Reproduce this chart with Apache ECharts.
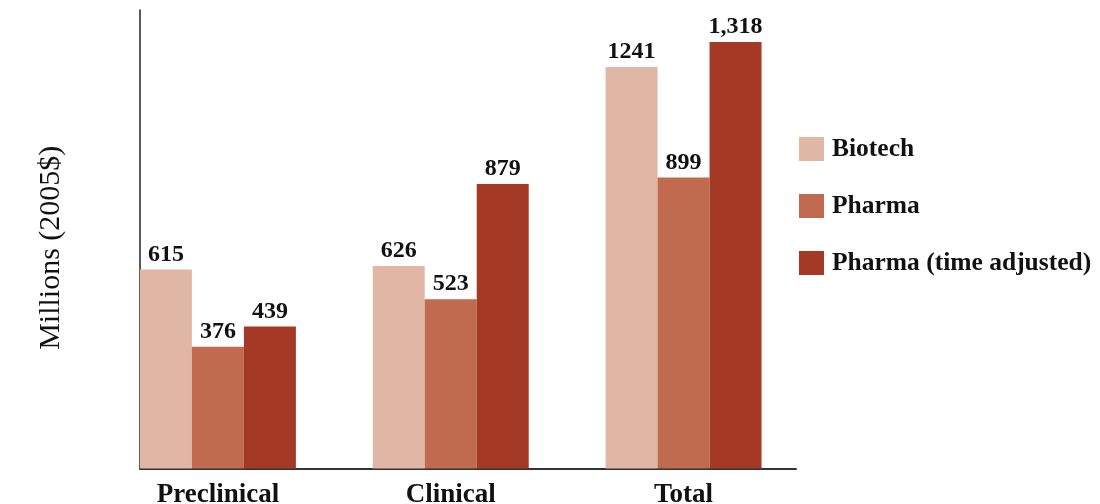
<!DOCTYPE html>
<html>
<head>
<meta charset="utf-8">
<script src="https://cdn.jsdelivr.net/npm/echarts@6/dist/echarts.min.js"></script>
<style>
html,body{margin:0;padding:0;background:#fff;}
#chart{width:1100px;height:504px;}
</style>
</head>
<body>
<div id="chart"></div>
<script>
var categories = ['Preclinical', 'Clinical', 'Total'];
var seriesNames = ['Biotech', 'Pharma', 'Pharma (time adjusted)'];
var biotech = [615, 626, 1241];
var pharma = [376, 523, 899];
var pharmaAdj = [439, 879, 1318];
var colors = ['#E0B6A5', '#C06A50', '#A43A26'];
var yTitle = 'Millions (2005$)';

var FONT = '"Liberation Serif", "DejaVu Serif", serif';

function pairs(arr) { return arr.map(function (v, i) { return [i, v]; }); }

function makeSeries(name, arr, color, comma) {
  return {
    name: name,
    type: 'bar',
    data: pairs(arr),
    barWidth: 52,
    barGap: '0%',
    itemStyle: { color: color },
    label: {
      show: true,
      position: 'top',
      distance: 3,
      color: '#111',
      fontFamily: FONT,
      fontWeight: 'bold',
      fontSize: 24,
      formatter: function (p) {
        var v = p.value[1];
        return comma ? v.toLocaleString('en-US') : String(v);
      }
    }
  };
}

var chart = echarts.init(document.getElementById('chart'));
chart.setOption({
  animation: false,
  backgroundColor: '#fff',
  grid: { left: 140, right: 304, top: 10, bottom: 35.5, containLabel: false, outerBoundsMode: 'none' },
  legend: {
    orient: 'vertical',
    left: 799,
    top: 136,
    padding: 0,
    itemWidth: 25,
    itemHeight: 24,
    itemGap: 31,
    icon: 'rect',
    data: seriesNames,
    textStyle: {
      fontFamily: FONT,
      fontWeight: 'bold',
      fontSize: 25.5,
      color: '#111',
      lineHeight: 24,
      padding: [0, 0, 0, 3]
    }
  },
  xAxis: {
    type: 'value',
    min: -0.3346,
    max: 2.483,
    splitLine: { show: false },
    axisTick: { show: false },
    axisLine: { show: true, lineStyle: { color: '#333', width: 2 } },
    axisLabel: {
      show: true,
      customValues: [0, 1, 2],
      margin: 13,
      fontFamily: FONT,
      fontWeight: 'bold',
      fontSize: 27,
      color: '#111',
      formatter: function (v) { return categories[Math.round(v)] || ''; }
    }
  },
  yAxis: {
    type: 'value',
    min: 0,
    max: 1417,
    splitLine: { show: false },
    axisTick: { show: false },
    axisLabel: { show: false },
    axisLine: { show: true, onZero: false, lineStyle: { color: '#222', width: 1.5 } },
    name: yTitle,
    nameLocation: 'middle',
    nameGap: 74,
    nameTextStyle: {
      fontFamily: FONT,
      fontSize: 30,
      color: '#111',
      padding: [0, 17, 0, 0]
    }
  },
  series: [
    makeSeries(seriesNames[0], biotech, colors[0], false),
    makeSeries(seriesNames[1], pharma, colors[1], false),
    makeSeries(seriesNames[2], pharmaAdj, colors[2], true)
  ]
});
</script>
</body>
</html>
